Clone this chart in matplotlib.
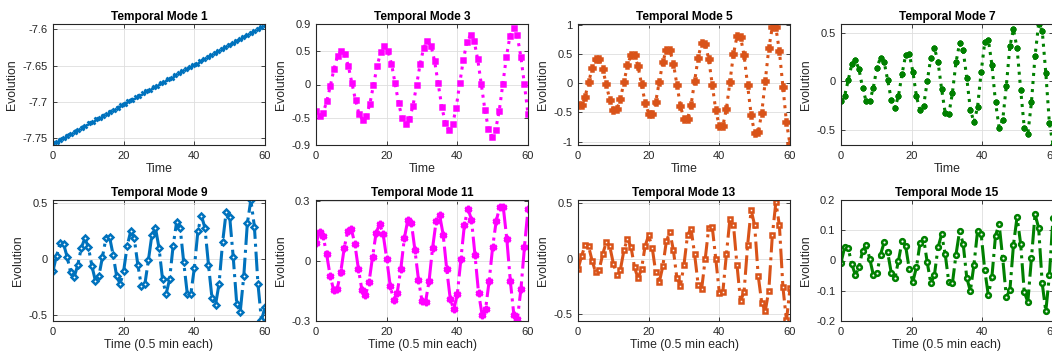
import matplotlib.pyplot as plt
import numpy as np
from matplotlib.ticker import FuncFormatter, FixedLocator

plt.rcParams['font.family'] = ['Liberation Sans', 'DejaVu Sans']

# values, one list per temporal mode
mode1 = [-7.7570, -7.7543, -7.7515, -7.7488, -7.7460, -7.7433, -7.7405, -7.7378, -7.7350, -7.7323,
         -7.7295, -7.7268, -7.7240, -7.7213, -7.7186, -7.7158, -7.7131, -7.7103, -7.7076, -7.7048,
         -7.7021, -7.6993, -7.6966, -7.6938, -7.6911, -7.6883, -7.6856, -7.6829, -7.6801, -7.6774,
         -7.6746, -7.6719, -7.6691, -7.6664, -7.6636, -7.6609, -7.6581, -7.6554, -7.6526, -7.6499,
         -7.6472, -7.6444, -7.6417, -7.6389, -7.6362, -7.6334, -7.6307, -7.6279, -7.6252, -7.6224,
         -7.6197, -7.6169, -7.6142, -7.6115, -7.6087, -7.6060, -7.6032, -7.6005, -7.5977, -7.5950]
mode3 = [-0.395, -0.47, -0.42, -0.25, -0.02, 0.23, 0.425, 0.50, 0.455, 0.275,
         0.02, -0.235, -0.445, -0.525, -0.475, -0.285, -0.01, 0.27, 0.48, 0.57,
         0.505, 0.31, 0.02, -0.28, -0.505, -0.595, -0.52, -0.315, -0.005, 0.31,
         0.55, 0.645, 0.58, 0.35, 0.015, -0.33, -0.575, -0.675, -0.595, -0.35,
         0.015, 0.365, 0.63, 0.735, 0.65, 0.375, 0.005, -0.375, -0.66, -0.775,
         -0.67, -0.39, 0.01, 0.415, 0.725, 0.835, 0.73, 0.415, 0.005, -0.445]
mode5 = [-0.38, -0.38, -0.23, 0.015, 0.26, 0.42, 0.41, 0.245, -0.02, -0.285,
         -0.45, -0.445, -0.27, 0.02, 0.31, 0.49, 0.48, 0.29, -0.02, -0.33,
         -0.52, -0.52, -0.315, 0.025, 0.365, 0.58, 0.57, 0.34, -0.025, -0.39,
         -0.62, -0.615, -0.37, 0.035, 0.44, 0.70, 0.68, 0.415, -0.025, -0.465,
         -0.74, -0.73, -0.44, 0.03, 0.5, 0.81, 0.80, 0.48, -0.03, -0.54,
         -0.86, -0.84, -0.51, 0.045, 0.6, 0.97, 0.96, 0.55, -0.06, -0.67,
         -1.05]
mode7 = [-0.20, -0.15, 0.01, 0.175, 0.22, 0.125, -0.065, -0.205, -0.205, -0.065,
         0.14, 0.245, 0.20, 0.01, -0.19, -0.27, -0.15, 0.08, 0.27, 0.28,
         0.10, -0.155, -0.30, -0.25, 0.0, 0.245, 0.345, 0.20, -0.08, -0.325,
         -0.34, -0.12, 0.195, 0.39, 0.32, 0.035, -0.29, -0.42, -0.265, 0.095,
         0.40, 0.43, 0.17, -0.215, -0.475, -0.40, -0.05, 0.36, 0.535, 0.34,
         -0.085, -0.475, -0.54, -0.215, 0.26, 0.59, 0.52, 0.085, -0.43, -0.65]
mode9 = [-0.105, 0.03, 0.14, 0.135, 0.02, -0.12, -0.16, -0.055, 0.10, 0.185,
         0.11, -0.06, -0.195, -0.15, 0.02, 0.19, 0.20, 0.04, -0.15, -0.225,
         -0.105, 0.12, 0.25, 0.185, -0.05, -0.24, -0.225, -0.01, 0.22, 0.28,
         0.10, -0.18, -0.315, -0.18, 0.12, 0.335, 0.275, -0.03, -0.31, -0.315,
         -0.08, 0.25, 0.39, 0.28, -0.05, -0.35, -0.41, -0.22, 0.15, 0.42,
         0.38, 0.02, -0.40, -0.47, -0.15, 0.32, 0.53, 0.29, -0.22, -0.55,
         -0.43]
mode11 = [0.088, 0.145, 0.127, 0.034, -0.073, -0.146, -0.14, -0.056, 0.066, 0.152,
          0.16, 0.085, -0.04, -0.145, -0.17, -0.107, 0.02, 0.139, 0.186, 0.135,
          0.012, -0.124, -0.195, -0.158, -0.04, 0.113, 0.207, 0.19, 0.054, -0.093,
          -0.2, -0.205, -0.1, 0.066, 0.198, 0.229, 0.13, -0.042, -0.19, -0.242,
          -0.166, 0.008, 0.181, 0.262, 0.207, 0.029, -0.158, -0.268, -0.24, -0.1,
          0.07, 0.2, 0.27, 0.27, 0.11, -0.1, -0.27, -0.29, -0.14, 0.07,
          0.26]
mode13 = [-0.095, 0.02, 0.12, 0.11, -0.02, -0.125, -0.1, 0.04, 0.15, 0.11,
          -0.045, -0.15, -0.1, 0.075, 0.18, 0.105, -0.08, -0.18, -0.09, 0.115,
          0.21, 0.1, -0.125, -0.215, -0.07, 0.155, 0.24, 0.075, -0.18, -0.245,
          -0.055, 0.215, 0.27, 0.04, -0.235, -0.275, -0.005, 0.28, 0.285, -0.005,
          -0.31, -0.3, 0.04, 0.36, 0.305, -0.06, -0.385, -0.3, 0.12, 0.44,
          0.3, -0.155, -0.4, -0.475, -0.29, 0.21, 0.51, 0.3, -0.26, -0.56,
          -0.27]
mode15 = [-0.007, 0.043, 0.041, -0.012, -0.048, -0.023, 0.032, 0.052, 0.006, -0.048,
          -0.042, 0.019, 0.06, 0.027, -0.042, -0.059, 0.0, 0.064, 0.047, -0.029,
          -0.07, -0.022, 0.058, 0.072, -0.006, -0.076, -0.048, 0.043, 0.086, 0.021,
          -0.072, -0.076, 0.019, 0.097, 0.055, -0.057, -0.101, -0.014, 0.097, 0.088,
          -0.031, -0.115, -0.054, 0.082, 0.121, 0.008, -0.12, -0.098, 0.052, 0.144,
          0.055, -0.104, -0.137, 0.008, 0.153, 0.108, -0.076, -0.168, -0.048, 0.141]

mode_numbers = [1, 3, 5, 7, 9, 11, 13, 15]
mode_values = [mode1, mode3, mode5, mode7, mode9, mode11, mode13, mode15]
y_ticks = [[-7.75, -7.7, -7.65, -7.6], [-0.9, -0.5, 0, 0.5, 0.9], [-1, -0.5, 0, 0.5, 1],
           [-0.5, 0, 0.5], [-0.5, 0, 0.5], [-0.3, 0, 0.3], [-0.5, 0, 0.5],
           [-0.2, -0.1, 0, 0.1, 0.2]]
y_limits = [(-7.759, -7.593), (-0.9, 0.9), (-1.06, 1.02), (-0.655, 0.59),
            (-0.555, 0.53), (-0.3, 0.305), (-0.565, 0.53), (-0.2, 0.2)]
x_ticks = [0, 20, 40, 60]

# style per panel: colour, marker, face colour
blue, magenta, orange, green = '#0072BD', '#FF00FF', '#D95319', '#008000'
styles = [
    dict(color=blue, marker='x', mfc=blue, ms=3.5, ls=':'),
    dict(color=magenta, marker='s', mfc=magenta, ms=3.2, ls=':'),
    dict(color=orange, marker='P', mfc=orange, ms=4.2, ls=':'),
    dict(color=green, marker=(6, 2, 0), mfc=green, ms=4.2, ls=':'),
    dict(color=blue, marker='D', mfc='white', ms=3.0, ls='-.'),
    dict(color=magenta, marker=(6, 1, 0), mfc=magenta, ms=5.0, ls='-.'),
    dict(color=orange, marker='s', mfc='white', ms=3.4, ls='-.'),
    dict(color=green, marker='o', mfc='white', ms=3.4, ls='-.'),
]

W, H = 1052, 358
fig = plt.figure(figsize=(W / 100, H / 100), dpi=100)
lefts = [53, 316, 578, 841]
tops = [24, 200]
aw, ah = 212, 121

fmt = FuncFormatter(lambda v, p: f'{v:g}')

for k in range(8):
    row, col = divmod(k, 4)
    ax = fig.add_axes([lefts[col] / W, 1 - (tops[row] + ah) / H, aw / W, ah / H])
    vals = mode_values[k]
    t = np.linspace(0, 60, len(vals))
    st = styles[k]
    ax.plot(t, vals, color=st['color'], ls=st['ls'], lw=2.2, marker=st['marker'],
            ms=st['ms'], mfc=st['mfc'], mec=st['color'], mew=1.8)
    ax.set_xlim(0, 60)
    ax.set_ylim(*y_limits[k])
    ax.xaxis.set_major_locator(FixedLocator(x_ticks))
    ax.yaxis.set_major_locator(FixedLocator(y_ticks[k]))
    ax.xaxis.set_major_formatter(fmt)
    ax.yaxis.set_major_formatter(fmt)
    ax.grid(True, color='#dedede', lw=0.6)
    ax.set_axisbelow(True)
    for sp in ax.spines.values():
        sp.set_color('#262626')
        sp.set_linewidth(0.8)
    ax.tick_params(direction='in', length=3, width=0.6, colors='#262626',
                   labelsize=8, top=True, right=True, pad=4)
    ax.set_title(f'Temporal Mode {mode_numbers[k]}', fontsize=8.6, fontweight='bold',
                 color='black', pad=3)
    ax.set_ylabel('Evolution', fontsize=8.8, color='#262626', labelpad=3)
    ax.set_xlabel('Time' if row == 0 else 'Time (0.5 min each)', fontsize=8.8,
                  color='#262626', labelpad=2)

fig.savefig('out.png', dpi=100)
